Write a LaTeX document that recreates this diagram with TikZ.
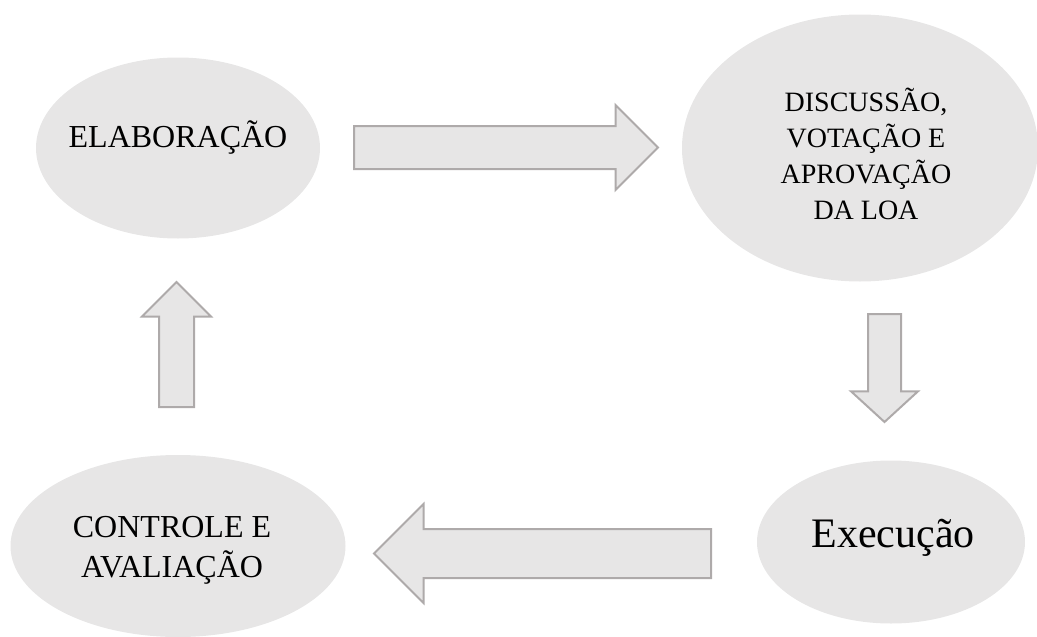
\documentclass[tikz,border=0pt]{standalone}
\usepackage{fontspec}
\setmainfont{Liberation Serif}
\usetikzlibrary{positioning,shapes.geometric,shapes.arrows}
\definecolor{BubbleGray}{HTML}{E7E6E6}
\definecolor{EdgeGray}{HTML}{AEAAAA}

\begin{document}
\begin{tikzpicture}[
  x=1pt, y=-1pt,
  bubble/.style={ellipse, fill=BubbleGray, inner sep=0pt, outer sep=0pt},
  label/.style={align=center, inner sep=0pt},
  blockarrow/.style={single arrow, draw=EdgeGray, fill=BubbleGray, line width=2pt,
    inner xsep=0pt, outer sep=0pt, anchor=tail, single arrow tip angle=90}
]
\useasboundingbox (0,0) rectangle (1037,637);
% phases
\node[bubble, minimum width=284pt, minimum height=181pt] (elab) at (178,148) {};
\node[bubble, minimum width=356pt, minimum height=267pt] (disc) at (860,148) {};
\node[bubble, minimum width=268pt, minimum height=163pt] (exec) at (891,542) {};
\node[bubble, minimum width=335pt, minimum height=182pt] (ctrl) at (178,546) {};
\node[label, font=\fontsize{32}{40}\selectfont] (elabtxt) at ([yshift=10pt]elab.center) {ELABORAÇÃO};
\node[label, font=\fontsize{28}{36}\selectfont] (disctxt) at ([xshift=6pt,yshift=-6pt]disc.center) {DISCUSSÃO,\\VOTAÇÃO E\\APROVAÇÃO\\DA LOA};
\node[label, font=\fontsize{42}{48}\selectfont] (exectxt) at ([xshift=2pt,yshift=4pt]exec.center) {Execução};
\node[label, font=\fontsize{32}{40}\selectfont] (ctrltxt) at ([xshift=-6pt,yshift=-4pt]ctrl.center) {CONTROLE E\\AVALIAÇÃO};
% block arrows
\node[blockarrow, inner ysep=20.5pt, minimum height=304pt, single arrow head extend=21pt] (toDisc) at (354,147.5) {};
\node[blockarrow, rotate=-90, inner ysep=15.5pt, minimum height=108pt, single arrow head extend=17pt, single arrow tip angle=95] (toExec) at (884.5,314) {};
\node[blockarrow, rotate=180, inner ysep=23.5pt, minimum height=337pt, single arrow head extend=25pt] (toCtrl) at (711,553.5) {};
\node[blockarrow, rotate=90, inner ysep=16.5pt, minimum height=125pt, single arrow head extend=17pt] (toElab) at (176.5,407) {};
\end{tikzpicture}
\end{document}
